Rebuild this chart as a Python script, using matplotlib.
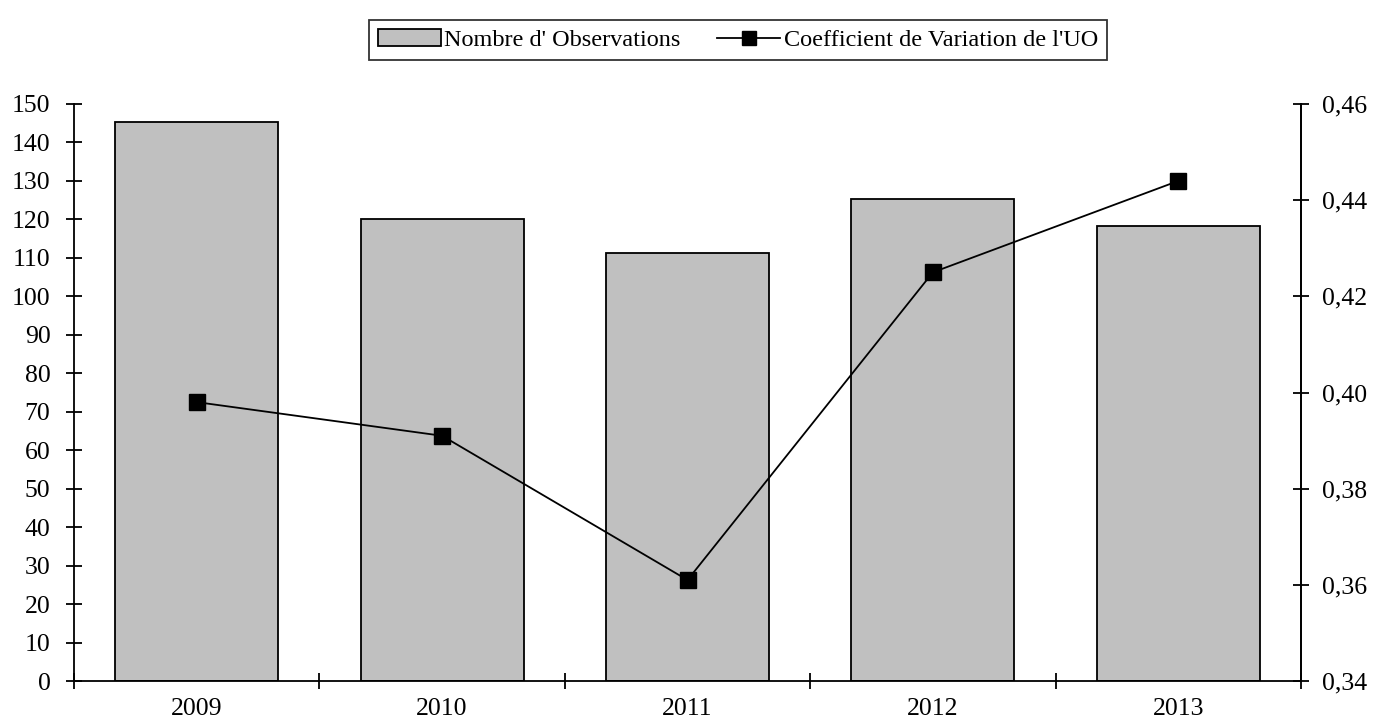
import matplotlib
matplotlib.use('Agg')
import matplotlib.pyplot as plt
import numpy as np

# ===============================================
# data
# ===============================================
years = ['2009', '2010', '2011', '2012', '2013']
nb_obs = [145.3, 120.0, 111.2, 125.2, 118.3]
coef_var = [0.398, 0.391, 0.361, 0.425, 0.444]

left_ticks = np.arange(0, 151, 10)
right_ticks = [0.34, 0.36, 0.38, 0.40, 0.42, 0.44, 0.46]

# ===============================================
# plot
# ===============================================
plt.rcParams['font.family'] = ['Liberation Serif', 'DejaVu Serif']

fig = plt.figure(figsize=(13.77, 7.22), dpi=100)
ax = fig.add_axes([74 / 1377, 1 - 681 / 722, (1301 - 74) / 1377, (681 - 104) / 722])
ax2 = ax.twinx()

x = np.arange(len(years))

# bars on the left axis
bars = ax.bar(x, nb_obs, width=0.665, color='#C0C0C0', edgecolor='black',
              linewidth=1.3, label="Nombre d' Observations", zorder=2)

# line on the right axis
line, = ax2.plot(x, coef_var, '-s', color='black', linewidth=1.3,
                 markersize=11, label="Coefficient de Variation de l'UO", zorder=3)

ax.set_xlim(-0.5, len(years) - 0.5)
ax.set_ylim(0, 150)
ax2.set_ylim(0.34, 0.46)

ax.set_yticks(left_ticks)
ax.set_yticklabels([str(v) for v in left_ticks])
ax2.set_yticks(right_ticks)
ax2.set_yticklabels([('%.2f' % v).replace('.', ',') for v in right_ticks])

# category ticks between the bars, labels centred on bars
ax.set_xticks(np.arange(-0.5, len(years), 1.0))
ax.set_xticklabels([])
ax.set_xticks(x, minor=True)
ax.set_xticklabels(years, minor=True)
ax.tick_params(axis='x', which='minor', length=0, pad=12)

for a in (ax, ax2):
    a.spines['top'].set_visible(False)
    for s in a.spines.values():
        s.set_linewidth(1.3)
    a.tick_params(which='major', direction='inout', length=12, width=1.3,
                  labelsize=18.5, colors='black')
ax.tick_params(axis='x', which='minor', labelsize=18.5)
ax.tick_params(axis='y', pad=11)
ax2.tick_params(axis='y', pad=9)
ax2.spines['left'].set_visible(False)
ax2.spines['bottom'].set_visible(False)

leg = fig.legend([bars, line], [bars.get_label(), line.get_label()],
                 loc='center', bbox_to_anchor=(738 / 1377, 1 - 40 / 722),
                 ncol=2, frameon=True, fancybox=False, edgecolor='black',
                 fontsize=17.5, handlelength=2.6, handletextpad=0.15,
                 columnspacing=1.5, borderpad=0.35, markerscale=0.9)
leg.get_frame().set_linewidth(1.3)

fig.savefig('out.png', dpi=100)
